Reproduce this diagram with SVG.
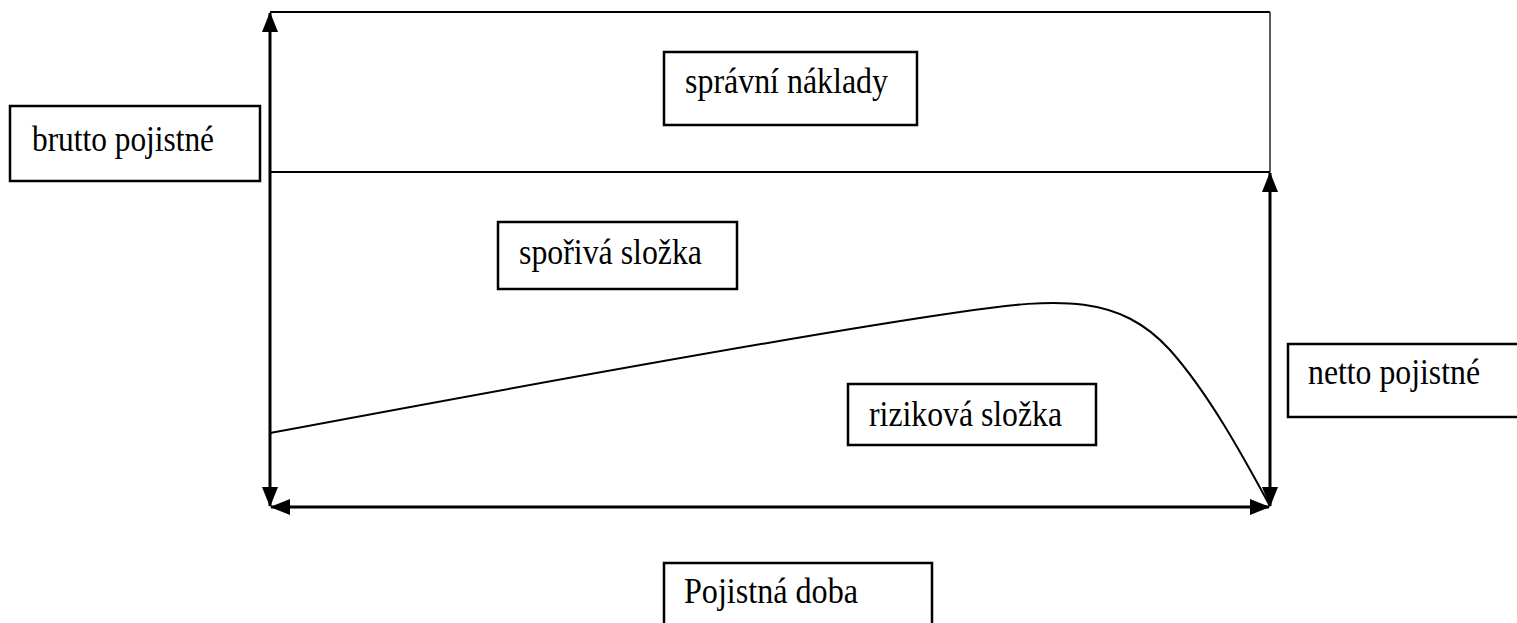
<svg xmlns="http://www.w3.org/2000/svg" width="1517" height="623" viewBox="0 0 1517 623">
<style>
.box{fill:#fff;stroke:#000;stroke-width:2.5}
.lbl{font-family:'Liberation Serif',serif;font-size:36px;fill:#000}
.ax{stroke:#000;stroke-width:3;fill:none}
.ln{stroke:#000;stroke-width:2;fill:none}
</style>
<defs>
<marker id="ah" markerUnits="userSpaceOnUse" markerWidth="20" markerHeight="16" viewBox="0 0 20 16" refX="19" refY="8" orient="auto-start-reverse">
<path d="M0,0 L20,8 L0,16 Z" fill="#000"/>
</marker>
</defs>
<rect width="1517" height="623" fill="#fff"/>
<g id="connectors">
<line class="ln" x1="270" y1="12" x2="1270" y2="12"/>
<line x1="1270" y1="12" x2="1270" y2="172" stroke="#333" stroke-width="1.6"/>
<line class="ln" x1="270" y1="172" x2="1270" y2="172"/>
<path class="ln" d="M270,433 C500,390 800,335 960,312 C1060,297 1120,295 1170,350 C1210,395 1245,460 1270,506"/>
<line class="ax" x1="270" y1="13" x2="270" y2="506" marker-start="url(#ah)" marker-end="url(#ah)"/>
<line class="ax" x1="1270" y1="173" x2="1270" y2="506" marker-start="url(#ah)" marker-end="url(#ah)"/>
<line class="ax" x1="271" y1="507" x2="1269" y2="507" marker-start="url(#ah)" marker-end="url(#ah)"/>
</g>
<g id="spravni-naklady">
<rect class="box" x="664" y="52" width="253" height="73"/>
<text class="lbl" font-family="Liberation Serif" x="685" y="93" textLength="203" lengthAdjust="spacingAndGlyphs">správní náklady</text>
</g>
<g id="brutto-pojistne">
<rect class="box" x="10" y="106" width="250" height="75"/>
<text class="lbl" font-family="Liberation Serif" x="32" y="151" textLength="182" lengthAdjust="spacingAndGlyphs">brutto pojistné</text>
</g>
<g id="sporiva-slozka">
<rect class="box" x="498" y="222" width="239" height="67"/>
<text class="lbl" font-family="Liberation Serif" x="519" y="264" textLength="183" lengthAdjust="spacingAndGlyphs">spořivá složka</text>
</g>
<g id="rizikova-slozka">
<rect class="box" x="848" y="384" width="248" height="61"/>
<text class="lbl" font-family="Liberation Serif" x="869" y="426" textLength="193" lengthAdjust="spacingAndGlyphs">riziková složka</text>
</g>
<g id="netto-pojistne">
<rect class="box" x="1288" y="344" width="240" height="73"/>
<text class="lbl" font-family="Liberation Serif" x="1308" y="384" textLength="172" lengthAdjust="spacingAndGlyphs">netto pojistné</text>
</g>
<g id="pojistna-doba">
<rect class="box" x="664" y="563" width="268" height="80"/>
<text class="lbl" font-family="Liberation Serif" x="684" y="603" textLength="174" lengthAdjust="spacingAndGlyphs">Pojistná doba</text>
</g>
</svg>
